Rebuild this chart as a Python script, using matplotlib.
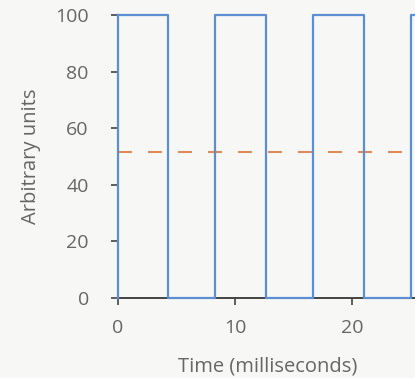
import matplotlib
matplotlib.use("Agg")
import matplotlib.pyplot as plt

# square wave: edge times (ms) and the level after each edge
edge_times = [0, 4.3, 8.3, 12.65, 16.65, 21.0, 25.0, 26.0]
levels = [100, 0, 100, 0, 100, 0, 100, 100]
mean_level = 51.5

x_ticks = [0, 10, 20]
y_ticks = [0, 20, 40, 60, 80, 100]

plt.rcParams['font.family'] = ['Open Sans', 'DejaVu Sans']
grey = '#666666'

fig = plt.figure(figsize=(4.15, 3.78), dpi=100)
fig.patch.set_facecolor('#f7f7f5')
# 0 ms at x=118 px, ~11.7 px per ms
ax = fig.add_axes([118 / 415, 80 / 378, 25.6 * 11.7 / 415, 283 / 378])
ax.set_facecolor('#f7f7f5')

ax.step(edge_times, levels, where='post', color='#5b8fd2', lw=1.6, clip_on=False, zorder=3)
ax.plot([edge_times[0], edge_times[0]], [0, 100], color='#5b8fd2', lw=1.6, clip_on=False, zorder=3)
ax.axhline(mean_level, color='#e0895a', lw=1.5, dashes=(6.7, 7.7), zorder=2)

ax.set_xlim(0, 25.6)
ax.set_ylim(0, 100)
ax.set_xticks(x_ticks)
ax.set_yticks(y_ticks)

for s in ['top', 'right']:
    ax.spines[s].set_visible(False)
for s in ['left', 'bottom']:
    ax.spines[s].set_color('#444444')
    ax.spines[s].set_linewidth(1.4)

ax.tick_params(axis='both', colors='#444444', labelcolor=grey, labelsize=14, length=5, width=1.2)
ax.tick_params(axis='y', pad=16)
ax.tick_params(axis='x', pad=10)

ax.set_ylabel('Arbitrary units', color=grey, fontsize=14.5)
ax.set_xlabel('Time (milliseconds)', color=grey, fontsize=14.5)
ax.yaxis.set_label_coords(-0.257, 0.5)
ax.xaxis.set_label_coords(0.5, -0.205)

fig.savefig('out.png', dpi=100, facecolor=fig.get_facecolor())
